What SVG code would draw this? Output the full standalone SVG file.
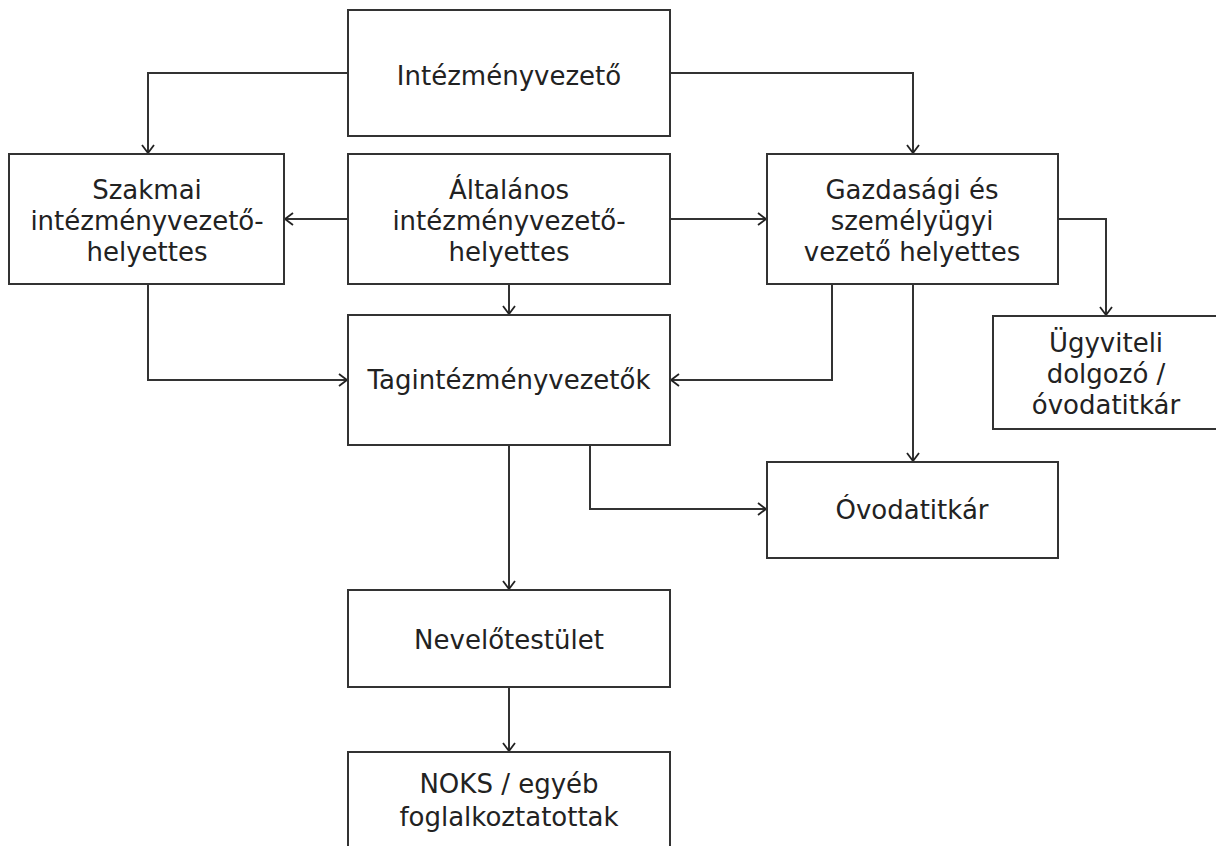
<svg xmlns="http://www.w3.org/2000/svg" width="1216" height="846" viewBox="0 0 1216 846">
<defs>
<marker id="arr" markerUnits="userSpaceOnUse" markerWidth="12" markerHeight="14" refX="10" refY="7" orient="auto">
<path d="M2,1 L10,7 L2,13" fill="none" stroke="#222" stroke-width="1.8"/>
</marker>
<style>
.box{fill:#fff;stroke:#333;stroke-width:2}
.t{font-family:"DejaVu Sans",Verdana,sans-serif;font-size:26px;fill:#222;text-anchor:middle}
.c{fill:none;stroke:#333;stroke-width:2;marker-end:url(#arr)}
</style>
</defs>
<rect width="1216" height="846" fill="#fff"/>
<g id="connectors">
<path class="c" d="M348,73 H148 V153"/>
<path class="c" d="M670,73 H913 V153"/>
<path class="c" d="M348,219 H285"/>
<path class="c" d="M670,219 H766"/>
<path class="c" d="M509,284 V314"/>
<path class="c" d="M148,284 V380 H347"/>
<path class="c" d="M832,284 V380 H671"/>
<path class="c" d="M1058,219 H1106 V315"/>
<path class="c" d="M913,284 V461"/>
<path class="c" d="M509,445 V589"/>
<path class="c" d="M590,445 V509 H766"/>
<path class="c" d="M509,687 V751"/>
</g>
<g id="intezmenyvezeto">
<rect class="box" x="348" y="10" width="322" height="126"/>
<text class="t" x="509" y="85">Intézményvezető</text>
</g>
<g id="szakmai">
<rect class="box" x="9" y="154" width="275" height="130"/>
<text class="t" x="147" y="199">Szakmai</text>
<text class="t" x="147" y="230">intézményvezető-</text>
<text class="t" x="147" y="261">helyettes</text>
</g>
<g id="altalanos">
<rect class="box" x="348" y="154" width="322" height="130"/>
<text class="t" x="509" y="199">Általános</text>
<text class="t" x="509" y="230">intézményvezető-</text>
<text class="t" x="509" y="261">helyettes</text>
</g>
<g id="gazdasagi">
<rect class="box" x="767" y="154" width="291" height="130"/>
<text class="t" x="912" y="199">Gazdasági és</text>
<text class="t" x="912" y="230">személyügyi</text>
<text class="t" x="912" y="261">vezető helyettes</text>
</g>
<g id="tagintezmenyvezetok">
<rect class="box" x="348" y="315" width="322" height="130"/>
<text class="t" x="509" y="389">Tagintézményvezetők</text>
</g>
<g id="ugyviteli">
<rect class="box" x="993" y="316" width="232" height="113"/>
<text class="t" x="1106" y="352">Ügyviteli</text>
<text class="t" x="1106" y="383">dolgozó /</text>
<text class="t" x="1106" y="414">óvodatitkár</text>
</g>
<g id="ovodatitkar">
<rect class="box" x="767" y="462" width="291" height="96"/>
<text class="t" x="912" y="519">Óvodatitkár</text>
</g>
<g id="nevelotestulet">
<rect class="box" x="348" y="590" width="322" height="97"/>
<text class="t" x="509" y="649">Nevelőtestület</text>
</g>
<g id="noks">
<rect class="box" x="348" y="752" width="322" height="110"/>
<text class="t" x="509" y="793">NOKS / egyéb</text>
<text class="t" x="509" y="826">foglalkoztatottak</text>
</g>
</svg>
